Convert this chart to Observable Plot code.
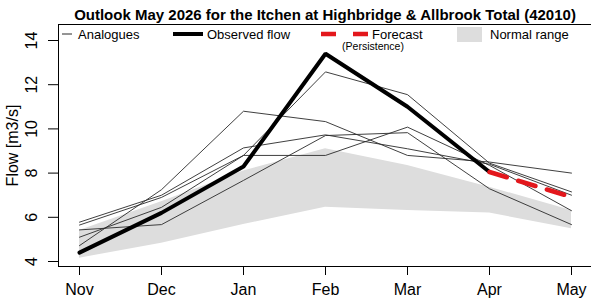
<!DOCTYPE html>
<html><head><meta charset="utf-8">
<script src="https://cdn.jsdelivr.net/npm/d3@7"></script>
<script src="https://cdn.jsdelivr.net/npm/@observablehq/plot@0.6"></script>
<style>
body{margin:0;background:#fff;}
#wrap{position:relative;width:591px;height:301px;overflow:hidden;font-family:"Liberation Sans",Arial,sans-serif;}
#wrap > svg{position:absolute;left:0;top:0;}
</style></head><body><div id="wrap"></div>
<script>
const titleText = "Outlook May 2026 for the Itchen at Highbridge & Allbrook Total (42010)";
const months = ["Nov","Dec","Jan","Feb","Mar","Apr","May"];
const yTicks = [4, 6, 8, 10, 12, 14];
const normalLow  = [4.15, 4.83, 5.67, 6.46, 6.31, 6.19, 5.48];
const normalHigh = [5.4, 6.7, 8.1, 9.1, 8.34, 7.36, 6.31];
const observedMonths = ["Nov","Dec","Jan","Feb","Mar","Apr"];
const observed = [4.4, 6.2, 8.3, 13.4, 11.0, 8.05];
const forecastMonths = ["Apr","May"];
const forecast = [8.05, 6.92];
const analogue1 = [4.72, 7.25, 10.8, 10.33, 8.8, 8.5, 8.0];
const analogue2 = [5.65, 6.9, 8.8, 12.58, 11.55, 8.45, 7.15];
const analogue3 = [5.1, 6.45, 8.8, 8.8, 10.08, 8.35, 6.3];
const analogue4 = [5.78, 7.0, 9.14, 9.73, 9.1, 8.4, 7.0];
const analogue5 = [5.43, 5.67, 7.67, 9.7, 9.83, 7.29, 5.67];
const legendLabels = ["Analogues", "Observed flow", "Forecast", "(Persistence)", "Normal range"];

const normal = months.map((m, i) => ({month: m, lo: normalLow[i], hi: normalHigh[i]}));
const analogues = [analogue1, analogue2, analogue3, analogue4, analogue5]
  .flatMap((s, k) => s.map((v, i) => ({month: months[i], v, k})));
const obs = observedMonths.map((m, i) => ({month: m, v: observed[i]}));
const fc = forecastMonths.map((m, i) => ({month: m, v: forecast[i]}));

const grey = "#dddddd";
const chart = Plot.plot({
  width: 591, height: 301,
  marginLeft: 58, marginRight: -3, marginTop: 24, marginBottom: 35,
  style: {fontFamily: "Liberation Sans, Arial, sans-serif", background: "white", color: "black"},
  x: {type: "point", domain: months, range: [58, 592], padding: 0.243},
  y: {domain: [3.774, 14.724]},
  marks: [
    Plot.areaY(normal, {x: "month", y1: "lo", y2: "hi", fill: grey}),
    Plot.line(analogues, {x: "month", y: "v", z: "k", stroke: "#2a2a2a", strokeWidth: 0.9}),
    Plot.line(obs, {x: "month", y: "v", stroke: "black", strokeWidth: 4, strokeLinejoin: "miter"}),
    Plot.line(fc, {x: "month", y: "v", stroke: "#e3171c", strokeWidth: 4.5, strokeDasharray: "18,12"}),
    Plot.frame({stroke: "black", strokeWidth: 1}),
    Plot.axisX({ticks: months, tickSize: 9, tickPadding: 8, fontSize: 16, label: null}),
    Plot.axisY({ticks: yTicks, tickSize: 10, tickRotate: -90, tickPadding: 12, fontSize: 16,
      label: "Flow [m3/s]", labelAnchor: "center", labelOffset: 52, labelArrow: "none"})
  ]
});
document.getElementById("wrap").appendChild(chart);

// Title and legend overlay
const ov = d3.select("#wrap").append("svg").attr("width", 591).attr("height", 301)
  .style("font-family", "Liberation Sans, Arial, sans-serif");
ov.append("text").attr("x", 325).attr("y", 19.5).attr("text-anchor", "middle")
  .attr("font-weight", "bold").attr("font-size", 15).text(titleText);
const ly = 34;
ov.append("line").attr("x1", 62).attr("x2", 72).attr("y1", ly).attr("y2", ly).attr("stroke", "#2a2a2a").attr("stroke-width", 1);
ov.append("text").attr("x", 78).attr("y", 38.5).attr("font-size", 13).text(legendLabels[0]);
ov.append("line").attr("x1", 173).attr("x2", 203).attr("y1", ly).attr("y2", ly).attr("stroke", "black").attr("stroke-width", 4);
ov.append("text").attr("x", 207).attr("y", 38.5).attr("font-size", 13).text(legendLabels[1]);
ov.append("line").attr("x1", 321).attr("x2", 370).attr("y1", ly).attr("y2", ly).attr("stroke", "#e3171c").attr("stroke-width", 4.5).attr("stroke-dasharray", "15,17");
ov.append("text").attr("x", 372).attr("y", 38.5).attr("font-size", 13).text(legendLabels[2]);
ov.append("text").attr("x", 373).attr("y", 49.5).attr("text-anchor", "middle").attr("font-size", 10.5).text(legendLabels[3]);
ov.append("rect").attr("x", 457).attr("y", 27).attr("width", 25).attr("height", 15).attr("fill", grey);
ov.append("text").attr("x", 490).attr("y", 38.5).attr("font-size", 13).text(legendLabels[4]);
</script></body></html>
